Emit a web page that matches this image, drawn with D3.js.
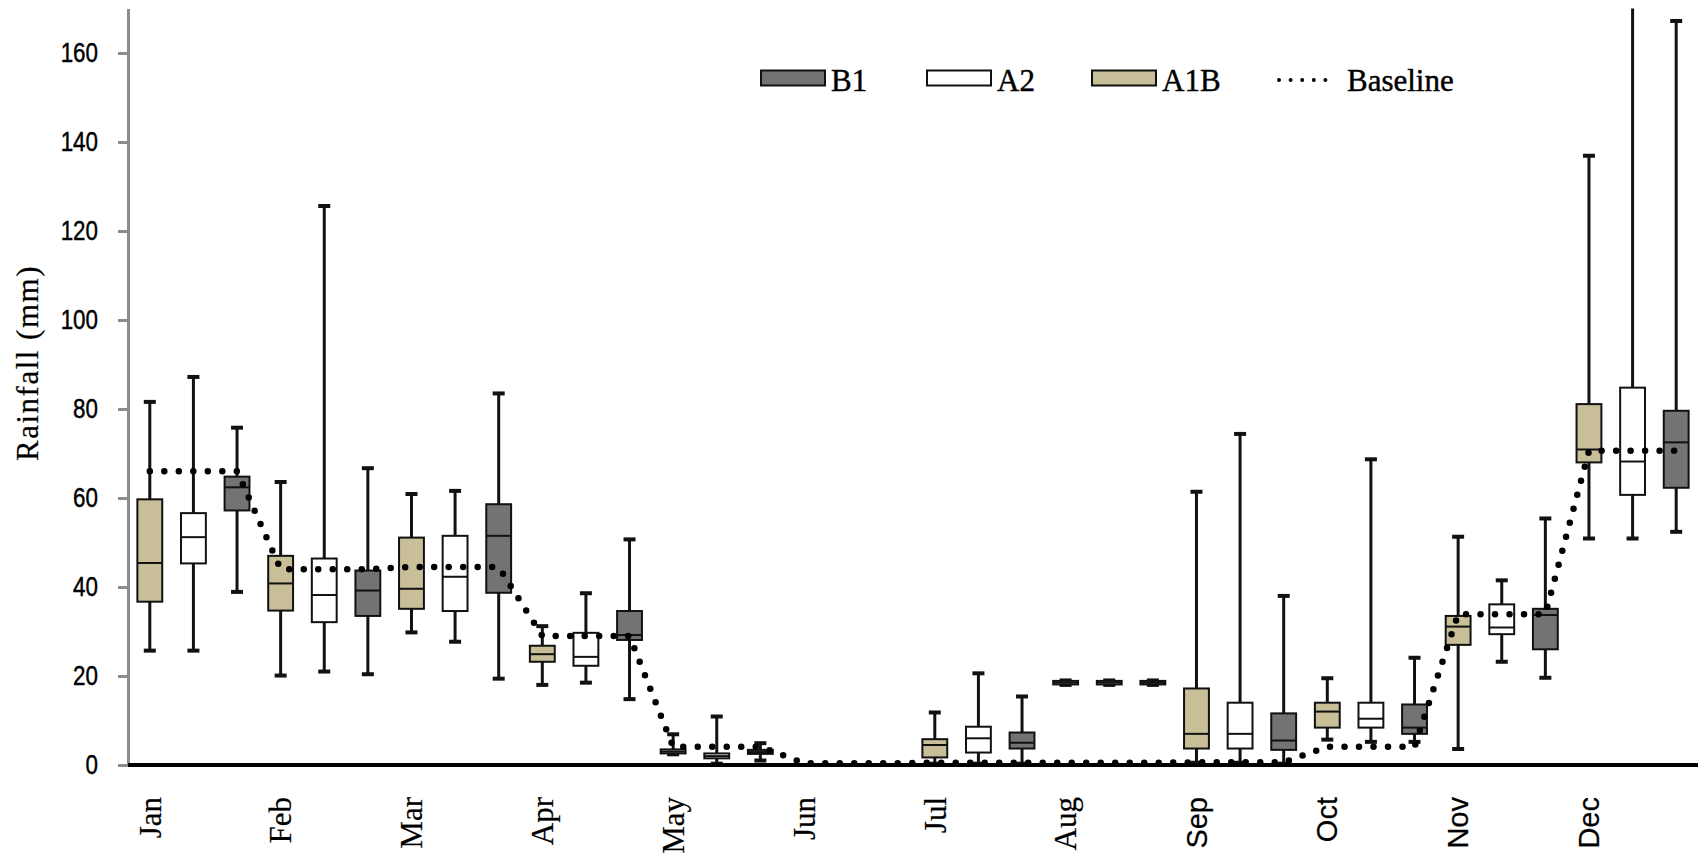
<!DOCTYPE html>
<html><head><meta charset="utf-8">
<script src="https://cdn.jsdelivr.net/npm/d3@7/dist/d3.min.js"></script>
<style>html,body{margin:0;padding:0;background:#fff;} svg{display:block}
.serif{font-family:"Liberation Serif","Times New Roman","DejaVu Serif",serif;}
.sans{font-family:"Liberation Sans",Arial,"DejaVu Sans",sans-serif;}
text{fill:#000;stroke:#000;stroke-width:0.45px;}
</style>
</head><body>
<svg id="chart" width="1704" height="857"></svg>
<script>
// ---- data ----
const months = ["Jan","Feb","Mar","Apr","May","Jun","Jul","Aug","Sep","Oct","Nov","Dec"];
const scenarios = ["A1B","A2","B1"];
const yTicks = [0,20,40,60,80,100,120,140,160];
// five-number summaries per month: [min, q1, median, q3, max]
const A1B = [
  [25.7,36.7,45.4,59.7,81.6],[20.1,34.7,40.8,47.0,63.6],[29.8,35.1,39.6,51.1,60.9],
  [18.0,23.2,24.9,26.8,31.2],[2.4,2.6,3.0,3.5,6.9],[0,0,0,0,0],
  [0.3,1.7,4.5,5.8,11.8],[18.0,18.1,18.5,18.9,19.0],[0.5,3.7,7.0,17.2,61.4],
  [5.7,8.4,12.0,14.0,19.5],[3.6,27.0,31.1,33.5,51.3],[50.9,68.0,70.9,81.1,136.9]
];
const A2 = [
  [25.7,45.3,51.2,56.6,87.2],[21.0,32.1,38.2,46.4,125.6],[27.7,34.6,42.3,51.5,61.6],
  [18.5,22.3,24.3,29.7,38.6],[0.3,1.5,2.0,2.6,10.9],[0,0,0,0,0],
  [0.3,2.8,6.0,8.6,20.6],[18.0,18.1,18.5,18.9,19.0],[0.5,3.7,7.0,14.0,74.4],
  [5.2,8.4,10.4,14.0,68.7],[23.2,29.4,30.9,36.1,41.5],[50.9,60.7,68.2,84.8,175]
];
const B1 = [
  [38.9,57.2,62.4,64.8,75.8],[20.4,33.5,39.2,43.7,66.7],[19.4,38.7,51.5,58.6,83.5],
  [14.8,28.1,29.2,34.6,50.7],[1.0,2.5,2.9,3.4,4.9],[0,0,0,0,0],
  [0.3,3.7,5.0,7.3,15.4],[18.0,18.1,18.5,18.9,19.0],[0.3,3.4,5.5,11.6,38.0],
  [5.2,7.0,8.4,13.6,24.1],[19.6,26.0,33.7,35.1,55.4],[52.4,62.3,72.5,79.6,167.2]
];
const baseline = [66,44,44.5,29,4.1,0.4,0.5,0.5,0.6,4.1,33.9,70.6];
const legendItems = ["B1","A2","A1B"];

(function(){
// ---- styles ----
const fills = {A1B:"#c8bf99", A2:"#ffffff", B1:"#737373"};
const seriesData = {A1B, A2, B1};

const svg = d3.select("#chart");
const pLeft = 128, pRight = 1698, pTop = 8.5, pBottom = 765;

const boxes = [];
months.forEach((m, mi) => scenarios.forEach((s, si) => {
  const v = seriesData[s][mi];
  boxes.push({key: mi*3+si, month: m, mi, s, min:v[0], q1:v[1], med:v[2], q3:v[3], max:v[4], base: baseline[mi]});
}));

const x = d3.scaleBand().domain(boxes.map(d => d.key)).range([pLeft, pRight])
  .paddingInner(0.43).paddingOuter(0.215);
const y = d3.scaleLinear().domain([0,170]).range([pBottom, pTop]);
const cx = d => x(d.key) + x.bandwidth()/2;
const capW = 12;

svg.append("defs").append("clipPath").attr("id","plotclip")
  .append("rect").attr("x", pLeft).attr("y", pTop).attr("width", pRight-pLeft).attr("height", pBottom-pTop+2);

// y axis
const yAxis = d3.axisLeft(y).tickValues(yTicks).tickSize(10).tickSizeOuter(0).tickPadding(20);
const gy = svg.append("g").attr("transform", `translate(${pLeft},0)`).call(yAxis);
gy.attr("font-family", null).attr("font-size", null);
gy.select(".domain").attr("stroke","#8c8c8c").attr("stroke-width",3);
gy.selectAll(".tick line").attr("stroke","#8c8c8c").attr("stroke-width",3);
gy.selectAll(".tick text").attr("class","sans")
  .attr("x", null).attr("text-anchor","end")
  .attr("transform","translate(-30,0) scale(0.8,1)")
  .style("font-size","28px");

// y title
svg.append("text").attr("class","serif").attr("transform","translate(38,363) rotate(-90)")
  .attr("text-anchor","middle")
  .style("font-size","31px").style("letter-spacing","1.5px").style("stroke-width","0.2px")
  .text("Rainfall (mm)");

// boxes
const plot = svg.append("g").attr("clip-path","url(#plotclip)");
const g = plot.selectAll("g.box").data(boxes).join("g").attr("class","box");
g.append("line").attr("x1", cx).attr("x2", cx)
  .attr("y1", d => y(d.min)).attr("y2", d => y(d.max))
  .attr("stroke","#111").attr("stroke-width",3);
g.append("line").attr("x1", d => cx(d)-capW/2).attr("x2", d => cx(d)+capW/2)
  .attr("y1", d => y(d.max)).attr("y2", d => y(d.max))
  .attr("stroke","#111").attr("stroke-width",4);
g.append("line").attr("x1", d => cx(d)-capW/2).attr("x2", d => cx(d)+capW/2)
  .attr("y1", d => y(d.min)).attr("y2", d => y(d.min))
  .attr("stroke","#111").attr("stroke-width",4);
g.append("rect").attr("x", d => x(d.key)).attr("width", x.bandwidth())
  .attr("y", d => y(d.q3)).attr("height", d => Math.max(0, y(d.q1)-y(d.q3)))
  .attr("fill", d => fills[d.s]).attr("stroke","#111").attr("stroke-width",2);
g.append("line").attr("x1", d => x(d.key)).attr("x2", d => x(d.key)+x.bandwidth())
  .attr("y1", d => y(d.med)).attr("y2", d => y(d.med))
  .attr("stroke","#111").attr("stroke-width",2);

// baseline dotted line
const line = d3.line().x(cx).y(d => y(d.base));
svg.append("path").datum(boxes).attr("d", line)
  .attr("fill","none").attr("stroke","#000").attr("stroke-width",6.5)
  .attr("stroke-linecap","round").attr("stroke-dasharray","0 14.5");

// x axis line
svg.append("line").attr("x1", pLeft).attr("x2", pRight).attr("y1", y(0)).attr("y2", y(0))
  .attr("stroke","#000").attr("stroke-width",4);

// month labels
const firsts = boxes.filter(d => d.s === "A1B");
svg.selectAll("text.month").data(firsts).join("text")
  .attr("class", d => "month " + (d.mi >= 8 ? "sans" : "serif"))
  .attr("transform", d => `translate(${cx(d)},797) rotate(-90)`)
  .attr("text-anchor","end").attr("dy","0.35em")
  .style("font-size", d => d.mi >= 8 ? "29px" : "31px")
  .style("stroke-width","0.2px")
  .text(d => d.month);

// legend
const legendX = [761, 927, 1092];
const lg = svg.append("g");
legendItems.forEach((s, i) => {
  lg.append("rect").attr("x", legendX[i]).attr("y", 70.5).attr("width", 64).attr("height", 15)
    .attr("fill", fills[s]).attr("stroke","#111").attr("stroke-width",2);
  lg.append("text").attr("class","serif").attr("x", legendX[i] + 70).attr("y", 91)
    .style("font-size","31px")
    .text(s);
});
lg.append("line").attr("x1",1279).attr("x2",1337).attr("y1",80).attr("y2",80)
  .attr("stroke","#000").attr("stroke-width",4).attr("stroke-linecap","round").attr("stroke-dasharray","0 11.6");
lg.append("text").attr("class","serif").attr("x",1347).attr("y",91)
  .style("font-size","31px")
  .text("Baseline");
})();
</script>
</body></html>
